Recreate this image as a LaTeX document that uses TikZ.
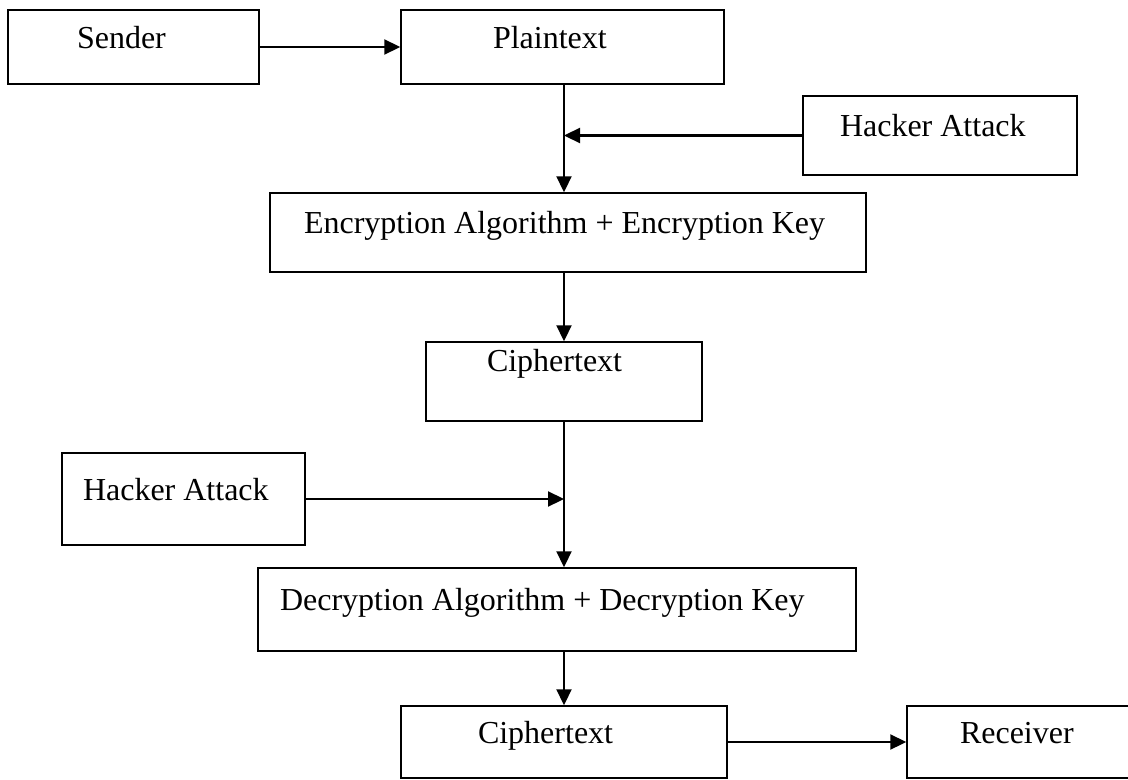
\documentclass[tikz,border=0pt]{standalone}
\usepackage{fontspec}
\setmainfont{Liberation Serif}
\usetikzlibrary{arrows.meta}
\newcommand{\pxunit}[0]{0.4pt}

\begin{document}
\begin{tikzpicture}[x=\pxunit, y=-\pxunit]
  \tikzset{blk/.style n args={3}{draw, line width=0.6pt, rectangle, inner sep=0pt,
             font=\fontsize{12.8}{15}\selectfont, text height=0.7em, text depth=0.6em,
             align=flush left, text width=(#1-2*#3)*\pxunit,
             minimum width=#1*\pxunit, minimum height=#2*\pxunit},
           flow/.style={line width=0.9pt, -{Triangle[length=6.4pt,width=6pt]}}}
  \useasboundingbox (0,0) rectangle (1128,780);
  \node[blk={251}{74}{69}] (sender)   at (133.5,47)  {Sender};
  \node[blk={323}{74}{92}] (plain)    at (562.5,47)  {Plaintext};
  \node[blk={274}{79}{37}] (hackTop)  at (940,135.5) {Hacker Attack};
  \node[blk={596}{79}{34}] (encrypt)  at (568,232.5) {\mbox{Encryption Algorithm + Encryption Key}};
  \node[blk={276}{79}{61}, text depth=1.5em] (cipherA) at (564,381.5) {Ciphertext};
  \node[blk={243}{92}{21}] (hackLeft) at (183.5,499) {Hacker Attack};
  \node[blk={598}{83}{22}] (decrypt)  at (557,609.5) {\mbox{Decryption Algorithm + Decryption Key}};
  \node[blk={326}{72}{77}] (cipherB)  at (564,742)   {Ciphertext};
  \node[blk={228}{72}{53}] (receiver) at (1021,742)  {Receiver};
  \coordinate (joinA) at (564,0 |- hackTop.west);
  \coordinate (joinB) at (564,0 |- hackLeft.east);
  \draw[flow] (sender.east) -- (plain.west);
  \draw[flow] (joinA |- plain.south) -- (joinA |- encrypt.north);
  \draw[flow] (hackTop.west) -- (joinA);
  \draw[flow] (joinA |- encrypt.south) -- (joinA |- cipherA.north);
  \draw[flow] (joinB |- cipherA.south) -- (joinB |- decrypt.north);
  \draw[flow] (hackLeft.east) -- (joinB);
  \draw[flow] (joinB |- decrypt.south) -- (joinB |- cipherB.north);
  \draw[flow] (cipherB.east) -- (receiver.west);
\end{tikzpicture}
\end{document}
